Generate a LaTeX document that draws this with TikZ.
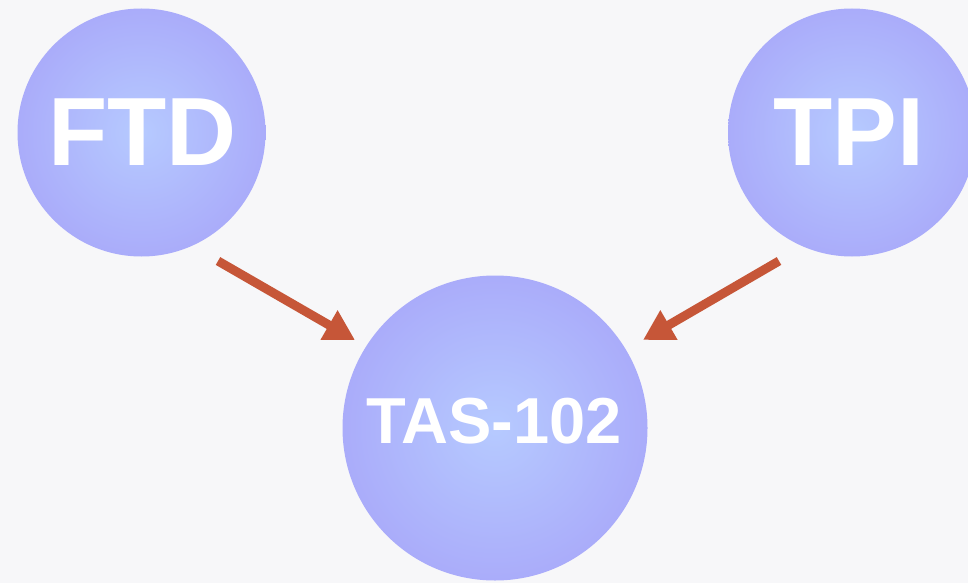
\documentclass[tikz,border=0pt]{standalone}
\usepackage{fontspec}
\setmainfont{Liberation Sans}
\usetikzlibrary{arrows.meta}
\definecolor{bgcol}{RGB}{247,247,249}
\definecolor{ballin}{RGB}{182,202,255}
\definecolor{ballout}{RGB}{170,172,250}
\definecolor{arrcol}{RGB}{198,86,56}
\pgfdeclareradialshading{ball}{\pgfpoint{0bp}{0bp}}{color(0bp)=(ballin); color(25bp)=(ballout); color(50bp)=(ballout)}
\tikzset{
  ballnode/.style={circle, draw=none, inner sep=0pt, shading=ball, minimum size=#1},
  bigtext/.style={text=white, font=\bfseries\fontsize{97}{97}\selectfont, inner sep=0pt},
  midtext/.style={text=white, font=\bfseries\fontsize{65}{65}\selectfont, inner sep=0pt},
  flow/.style={draw=arrcol, line width=9pt, -{Triangle[length=30pt,width=32pt]}}
}
\begin{document}
\begin{tikzpicture}[x=1pt,y=-1pt]
\useasboundingbox (0,0) rectangle (968,583);
\fill[bgcol] (0,0) rectangle (968,583);
\node[ballnode=248pt] (ftd) at (141.5,132.5) {};
\node[ballnode=248pt] (tpi) at (852,132.5) {};
\node[ballnode=305pt] (tas) at (495,428) {};
\node[bigtext] (ftdt) at (142.5,132) {FTD};
\node[bigtext] (tpit) at (848.5,132) {TPI};
\node[midtext] (tast) at (494,421) {TAS-102};
\coordinate (a1s) at (218,261);
\coordinate (a1e) at (355,340);
\coordinate (a2s) at (779,261);
\coordinate (a2e) at (643,340);
\draw[flow] (a1s) -- (a1e);
\draw[flow] (a2s) -- (a2e);
\end{tikzpicture}
\end{document}
